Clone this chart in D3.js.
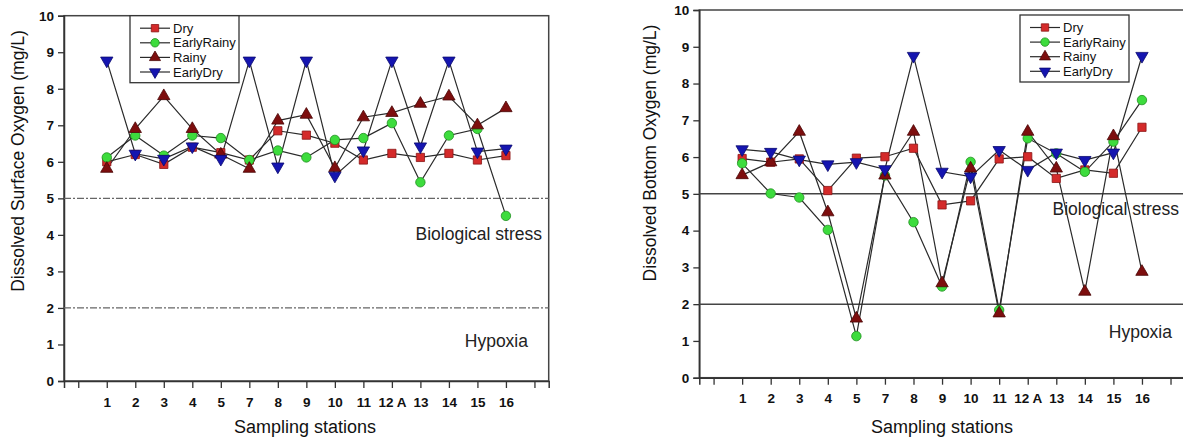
<!DOCTYPE html>
<html>
<head>
<meta charset="utf-8">
<script src="https://cdn.jsdelivr.net/npm/d3@7"></script>
<style>
  body { margin: 0; background: #fff; }
  svg { font-family: "Liberation Sans", Arial, sans-serif; }
  .tick-lab { font-weight: bold; font-size: 13.5px; fill: #111; }
</style>
</head>
<body>
<div id="chart"></div>
<script>
// station labels on the x axis (blank ticks at both ends)
var stations = ["", "1", "2", "3", "4", "5", "7", "8", "9", "10", "11", "12 A", "13", "14", "15", "16", ""];
var yTicks = [0, 1, 2, 3, 4, 5, 6, 7, 8, 9, 10];
var seriesNames = ["Dry", "EarlyRainy", "Rainy", "EarlyDry"];

// surface DO (left panel), stations 1..16
var surfDry        = [6.0, 6.2, 5.93, 6.4, 6.25, 6.05, 6.85, 6.73, 6.51, 6.05, 6.23, 6.12, 6.23, 6.05, 6.17];
var surfEarlyRainy = [6.12, 6.72, 6.17, 6.72, 6.65, 6.05, 6.31, 6.12, 6.6, 6.65, 7.06, 5.44, 6.72, 6.9, 4.52];
var surfRainy      = [5.81, 6.9, 7.8, 6.9, 6.2, 5.81, 7.13, 7.29, 5.83, 7.22, 7.34, 7.59, 7.79, 7.0, 7.47];
var surfEarlyDry   = [8.77, 6.22, 6.08, 6.42, 6.08, 8.77, 5.87, 8.77, 5.62, 6.31, 8.77, 6.42, 8.77, 6.28, 6.36];

// bottom DO (right panel)
var botDry        = [5.96, 5.86, 5.95, 5.09, 5.97, 6.01, 6.24, 4.70, 4.81, 5.95, 6.01, 5.42, 5.65, 5.56, 6.81];
var botEarlyRainy = [5.83, 5.01, 4.90, 4.02, 1.13, 5.50, 4.23, 2.48, 5.87, 1.84, 6.51, 6.10, 5.60, 6.42, 7.55];
var botRainy      = [5.51, 5.86, 6.69, 4.50, 1.61, 5.50, 6.69, 2.57, 5.69, 1.75, 6.69, 5.69, 2.34, 6.57, 2.88];
var botEarlyDry   = [6.21, 6.14, 5.93, 5.80, 5.86, 5.67, 8.75, 5.60, 5.47, 6.19, 5.65, 6.12, 5.92, 6.12, 8.75];

// threshold lines
var thresholds = [5, 2];

var W = 1183, H = 437;
var svg = d3.select("#chart").append("svg")
    .attr("width", W).attr("height", H);

var styles = {
  Dry:        {fill: "#d42a2a", stroke: "#8a1515", sym: d3.symbolSquare, size: 68},
  EarlyRainy: {fill: "#3ddc3d", stroke: "#1f8f1f", sym: d3.symbolCircle, size: 70},
  Rainy:      {fill: "#7d0e0e", stroke: "#4a0606", sym: d3.symbolTriangle, size: 66},
  EarlyDry:   {fill: "#1515b0", stroke: "#0a0a70", sym: d3.symbolTriangle, size: 66, flip: true}
};

function panel(cfg) {
  var x = d3.scaleLinear().domain([-0.5, 16.5]).range([cfg.x0, cfg.x1]);
  var y = d3.scaleLinear().domain([0, 10]).range([cfg.y1, cfg.y0]);
  var g = svg.append("g");

  // frame
  g.append("rect")
    .attr("x", cfg.x0).attr("y", cfg.y0)
    .attr("width", cfg.x1 - cfg.x0).attr("height", cfg.y1 - cfg.y0)
    .attr("fill", "none").attr("stroke", "#444").attr("stroke-width", 1.5);

  // y axis
  var yAxis = g.append("g")
    .attr("transform", "translate(" + cfg.x0 + ",0)")
    .call(d3.axisLeft(y).tickValues(yTicks).tickSize(6).tickPadding(4).tickFormat(d3.format("d")));
  yAxis.select(".domain").attr("stroke", "#333").attr("stroke-width", 1.5);
  yAxis.selectAll(".tick line").attr("stroke", "#333").attr("stroke-width", 1.3);
  yAxis.selectAll(".tick text").attr("class", "tick-lab").attr("font-size", null).attr("font-family", null);

  // x axis
  var xAxis = g.append("g")
    .attr("transform", "translate(0," + cfg.y1 + ")")
    .call(d3.axisBottom(x).tickValues(d3.range(stations.length)).tickSize(7).tickPadding(9)
      .tickFormat(function(i) { return stations[i]; }));
  xAxis.select(".domain").attr("stroke", "#333").attr("stroke-width", 1.5);
  xAxis.selectAll(".tick line").attr("stroke", "#333").attr("stroke-width", 1.3);
  xAxis.selectAll(".tick text").attr("class", "tick-lab").attr("font-size", null).attr("font-family", null);

  // thresholds
  thresholds.forEach(function(t) {
    g.append("line")
      .attr("x1", cfg.x0).attr("x2", cfg.x1)
      .attr("y1", y(t)).attr("y2", y(t))
      .attr("stroke", cfg.dashed ? "#666" : "#444")
      .attr("stroke-width", cfg.dashed ? 1.3 : 1.5)
      .attr("stroke-dasharray", cfg.dashed ? "7,2,2,2" : null);
  });
  g.append("text").attr("x", cfg.bioX).attr("y", y(5) + cfg.bioDy)
    .attr("text-anchor", "end").attr("font-size", 17.5).attr("fill", "#222").text("Biological stress");
  g.append("text").attr("x", cfg.hypX).attr("y", y(2) + cfg.hypDy)
    .attr("text-anchor", "end").attr("font-size", 17.5).attr("fill", "#222").text("Hypoxia");

  // series lines
  var line = d3.line().x(function(d, i) { return x(i + 1); }).y(function(d) { return y(d); });
  seriesNames.forEach(function(name) {
    g.append("path").datum(cfg.data[name])
      .attr("d", line).attr("fill", "none")
      .attr("stroke", "#2a2a2a").attr("stroke-width", 1.2);
  });
  // markers
  seriesNames.forEach(function(name) {
    var s = styles[name];
    g.selectAll(".m-" + name).data(cfg.data[name]).enter().append("path")
      .attr("d", d3.symbol().type(s.sym).size(s.size))
      .attr("transform", function(d, i) {
        return "translate(" + x(i + 1) + "," + y(d) + ")" + (s.flip ? " rotate(180)" : "");
      })
      .attr("fill", s.fill).attr("stroke", s.stroke).attr("stroke-width", 0.8);
  });

  // axis titles
  g.append("text")
    .attr("transform", "translate(" + cfg.yTitleX + "," + cfg.yTitleY + ") rotate(-90)")
    .attr("text-anchor", "middle").attr("font-size", 17.5).attr("fill", "#111")
    .text(cfg.yTitle);
  g.append("text")
    .attr("x", cfg.xTitleX).attr("y", 433)
    .attr("text-anchor", "middle").attr("font-size", 18).attr("fill", "#111")
    .text("Sampling stations");

  // legend
  var lg = g.append("g");
  lg.append("rect")
    .attr("x", cfg.lgX).attr("y", cfg.lgY).attr("width", cfg.lgW).attr("height", 67)
    .attr("fill", "#fff").attr("stroke", "#333").attr("stroke-width", 1.3);
  seriesNames.forEach(function(name, i) {
    var s = styles[name];
    var ly = cfg.lgY + 12.5 + i * 14.6;
    lg.append("line")
      .attr("x1", cfg.lgX + 10).attr("x2", cfg.lgX + 40)
      .attr("y1", ly).attr("y2", ly).attr("stroke", "#2a2a2a").attr("stroke-width", 1.2);
    lg.append("path")
      .attr("d", d3.symbol().type(s.sym).size(s.size * 0.8))
      .attr("transform", "translate(" + (cfg.lgX + 25) + "," + ly + ")" + (s.flip ? " rotate(180)" : ""))
      .attr("fill", s.fill).attr("stroke", s.stroke).attr("stroke-width", 0.8);
    lg.append("text")
      .attr("x", cfg.lgX + 43).attr("y", ly + 4.5)
      .attr("font-size", 13).attr("fill", "#111").text(name);
  });
}

panel({
  x0: 64, x1: 548.7, y0: 15.7, y1: 381,
  dashed: true,
  data: {Dry: surfDry, EarlyRainy: surfEarlyRainy, Rainy: surfRainy, EarlyDry: surfEarlyDry},
  bioX: 542, bioDy: 42, hypX: 528, hypDy: 39,
  yTitle: "Dissolved Surface Oxygen (mg/L)", yTitleX: 24, yTitleY: 161, xTitleX: 305,
  lgX: 130, lgY: 15.7, lgW: 109
});

panel({
  x0: 699.3, x1: 1184.8, y0: 10, y1: 377.7,
  dashed: false,
  data: {Dry: botDry, EarlyRainy: botEarlyRainy, Rainy: botRainy, EarlyDry: botEarlyDry},
  bioX: 1179, bioDy: 21, hypX: 1172, hypDy: 34,
  yTitle: "Dissolved Bottom Oxygen (mg/L)", yTitleX: 656, yTitleY: 153, xTitleX: 942,
  lgX: 1020, lgY: 15, lgW: 109
});
</script>
</body>
</html>
